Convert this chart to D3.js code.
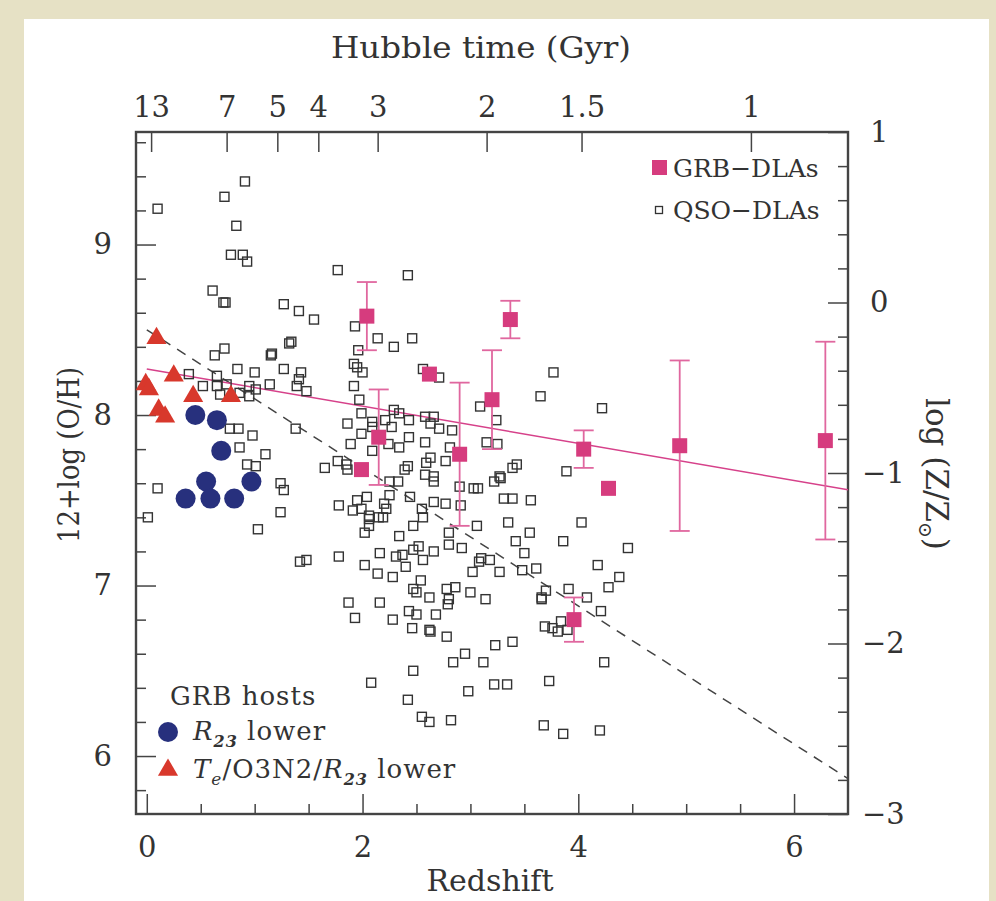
<!DOCTYPE html>
<html>
<head>
<meta charset="utf-8">
<script src="https://cdn.jsdelivr.net/npm/d3@7"></script>
<style>
  html, body { margin: 0; padding: 0; background: #e6e1c5; }
  svg { display: block; }
  text { font-family: "DejaVu Serif", serif; fill: #333; }
  .axis text { font-size: 29px; }
  .axis path { display: none; }
  .axis line { stroke: #444; stroke-width: 1.5px; }
</style>
</head>
<body>
<div id="chart"></div>
<script>
// QSO-DLAs: [redshift, 12+log(O/H)]
var qsoDla = [
  [0.10,9.21],[0.91,9.37],[0.72,9.28],[0.83,9.11],[0.78,8.94],[0.89,8.94],[0.93,8.90],[0.61,8.73],[0.71,8.66],[0.73,8.66],
  [1.77,8.85],[2.42,8.82],[1.27,8.65],[1.41,8.61],[1.55,8.56],[1.93,8.52],[2.14,8.45],[2.29,8.40],[2.46,8.45],[1.96,8.38],
  [0.72,8.39],[0.63,8.35],[1.32,8.42],[1.34,8.43],[1.15,8.35],[1.16,8.36],[0.39,8.24],[0.84,8.27],[1.00,8.25],[1.27,8.27],
  [1.43,8.25],[1.41,8.21],[1.39,8.17],[1.48,8.14],[1.14,8.18],[0.95,8.17],[0.95,8.11],[1.01,8.15],[0.65,8.23],[0.65,8.17],
  [0.74,8.18],[0.52,8.17],[0.68,8.12],[0.86,8.13],[1.92,8.30],[1.95,8.28],[2.00,8.25],[1.92,8.17],[1.97,8.09],[1.99,8.01],
  [2.56,8.27],[2.71,8.22],[3.09,8.05],[2.29,8.03],[2.34,8.01],[2.58,7.99],[2.66,7.99],[2.63,7.95],[2.71,7.92],[2.83,7.91],
  [2.43,7.97],[2.21,7.97],[2.09,7.96],[2.09,7.93],[2.27,7.93],[1.86,7.95],[0.77,7.92],[0.85,7.92],[1.38,7.92],[0.98,7.88],
  [1.99,7.89],[2.43,7.87],
  [0.86,7.81],[1.10,7.77],[0.93,7.71],[1.01,7.70],[0.10,7.57],[0.01,7.40],[1.24,7.60],[1.27,7.56],[1.24,7.43],[1.03,7.33],
  [1.42,7.14],[1.48,7.15],[1.78,7.17],[1.89,7.83],[1.65,7.69],[1.77,7.73],[1.85,7.71],[1.86,7.68],[2.24,7.83],[2.34,7.81],
  [2.58,7.84],[2.81,7.81],[2.59,7.72],[2.77,7.73],[2.39,7.68],[2.42,7.70],[2.58,7.65],[2.66,7.64],[2.25,7.61],[2.33,7.61],
  [2.66,7.61],[2.90,7.58],[3.03,7.57],[3.07,7.57],[1.95,7.50],[2.04,7.52],[1.78,7.47],[1.91,7.44],[1.99,7.45],[2.20,7.48],
  [2.22,7.45],[2.25,7.53],[2.06,7.41],[2.15,7.40],[2.06,7.39],[2.19,7.40],[2.06,7.35],[2.02,7.31],[2.44,7.52],[2.55,7.45],
  [2.56,7.40],[2.66,7.49],[2.77,7.48],[2.91,7.47],[2.47,7.35],[2.80,7.31],[3.06,7.35],[2.34,7.29],[2.80,7.24],[2.92,7.22],
  [2.47,7.21],[2.52,7.23],[2.66,7.20],[2.56,7.15],[2.16,7.19],[2.31,7.17],[2.37,7.18],[2.02,7.12],[2.14,7.07],[2.28,7.05],
  [2.40,7.11],[3.10,7.16],[3.08,7.14],[3.02,7.08],[2.54,7.03],[2.47,6.98],[2.50,6.96],[2.62,6.93],[2.78,6.98],[2.86,6.99],
  [3.00,6.96],[2.80,6.92],[2.79,6.89],[3.14,6.92],[1.87,6.90],[2.16,6.90],[1.93,6.81],[2.28,6.80],[2.43,6.85],[2.50,6.83],
  [2.68,6.83],[2.46,6.75],[2.62,6.74],[2.63,6.73],[2.78,6.70],[2.84,6.55],[2.95,6.60],[3.12,6.55],[2.47,6.50],[2.08,6.43],
  [2.98,6.38],[2.42,6.33],[2.55,6.23],[2.62,6.20],[2.82,6.21],
  [2.09,7.79],[2.63,7.75],[3.15,7.84],[3.25,7.83],
  [3.77,8.25],[3.65,8.11],[4.22,8.04],[3.24,7.97],[3.89,7.67],[3.43,7.71],[3.39,7.69],[3.27,7.64],[3.22,7.61],[3.28,7.63],
  [3.31,7.51],[3.39,7.51],[3.56,7.50],[3.35,7.37],[4.03,7.37],
  [3.55,7.31],[3.42,7.26],[3.86,7.26],[4.46,7.22],[3.50,7.19],[3.18,7.15],[3.27,7.08],[3.48,7.09],[3.61,7.10],[4.18,7.12],
  [4.38,7.05],[4.28,6.99],[3.70,6.97],[3.66,6.92],[3.66,6.93],[3.91,6.98],[4.08,6.93],[4.21,6.85],[3.69,6.76],[3.76,6.75],
  [3.81,6.73],[3.84,6.79],[3.90,6.74],[3.23,6.65],[3.39,6.67],[4.24,6.55],[3.22,6.42],[3.34,6.42],[3.73,6.44],[3.68,6.18],
  [3.86,6.13],[4.20,6.15]
];

// GRB-DLAs: redshift, metallicity, error (0 = no error bar)
var grbZ   = [2.04, 2.62, 2.15, 1.99, 2.90, 3.20, 3.37, 4.05, 4.28, 4.94, 6.29, 3.96];
var grbOH  = [8.58, 8.24, 7.87, 7.68, 7.77, 8.09, 8.56, 7.80, 7.57, 7.82, 7.85, 6.80];
var grbErr = [0.20, 0,    0.28, 0,    0.42, 0.29, 0.11, 0.11, 0,    0.50, 0.58, 0.13];

// GRB hosts
var r23Z  = [0.45, 0.65, 0.69, 0.55, 0.97, 0.36, 0.59, 0.81];
var r23OH = [8.00, 7.97, 7.79, 7.61, 7.61, 7.51, 7.51, 7.51];
var teZ   = [0.09, 0.25, -0.01, 0.02, 0.11, 0.17, 0.43, 0.78];
var teOH  = [8.45, 8.23, 8.18, 8.15, 8.03, 7.99, 8.11, 8.11];

// fits: [intercept, slope]
var grbFit = [8.27, -0.109];
var qsoFit = [8.50, -0.405];

// top axis: Hubble time labels and the redshift where they sit
var hubbleLabels = ['13', '7', '5', '4', '3', '2', '1.5', '1'];
var hubbleZ = [0.04, 0.74, 1.21, 1.59, 2.14, 3.15, 4.03, 5.60];

var solarOH = 8.66;

var W = 996, H = 901;
var margin = {left: 136, right: 148, top: 132, bottom: 87};
var width = W - margin.left - margin.right;
var height = H - margin.top - margin.bottom;

var x = d3.scaleLinear().domain([-0.1, 6.5]).range([0, width]);
var y = d3.scaleLinear().domain([5.66, 9.66]).range([height, 0]);
var yR = d3.scaleLinear().domain([5.66 - solarOH, 9.66 - solarOH]).range([height, 0]);

var svg = d3.select("#chart").append("svg").attr("width", W).attr("height", H);

svg.append("rect").attr("x", 24).attr("y", 19).attr("width", 965).attr("height", H - 19).attr("fill", "#fff");

var g = svg.append("g").attr("transform", "translate(" + margin.left + "," + margin.top + ")");

// axes
var big = 20, small = 10;
var xMinor = d3.range(0, 6.01, 0.5).filter(function (d) { return d % 2 !== 0; });
var yMinor = d3.range(5.8, 9.61, 0.2).filter(function (d) { return Math.abs(d - Math.round(d)) > 0.01; });
var rMinor = d3.range(-2.8, 0.81, 0.2).filter(function (d) { return Math.abs(d - Math.round(d)) > 0.01; });

g.append("g").attr("class", "axis").attr("transform", "translate(0," + height + ")")
  .call(d3.axisBottom(x).tickValues([0, 2, 4, 6]).tickSize(-big).tickPadding(22).tickFormat(d3.format("d")));
g.append("g").attr("class", "axis").attr("transform", "translate(0," + height + ")")
  .call(d3.axisBottom(x).tickValues(xMinor).tickSize(-small).tickFormat(""));

g.append("g").attr("class", "axis")
  .call(d3.axisTop(x).tickValues(hubbleZ).tickSize(-big).tickPadding(15)
    .tickFormat(function (d, i) { return hubbleLabels[i]; }));

g.append("g").attr("class", "axis")
  .call(d3.axisLeft(y).tickValues([6, 7, 8, 9]).tickSize(-big).tickPadding(24).tickFormat(d3.format("d")));
g.append("g").attr("class", "axis")
  .call(d3.axisLeft(y).tickValues(yMinor).tickSize(-small).tickFormat(""));

var rightAx = g.append("g").attr("class", "axis").attr("transform", "translate(" + width + ",0)")
  .call(d3.axisRight(yR).tickValues([-3, -2, -1, 0, 1]).tickSize(-big).tickPadding(16)
    .tickFormat(function (d) { return d < 0 ? "\u2212" + Math.abs(d) : d; }));
rightAx.selectAll("text").attr("x", function (d) { return d < 0 ? 14 : 22; });
g.append("g").attr("class", "axis").attr("transform", "translate(" + width + ",0)")
  .call(d3.axisRight(yR).tickValues(rMinor).tickSize(-small).tickFormat(""));

g.append("rect").attr("width", width).attr("height", height)
  .attr("fill", "none").attr("stroke", "#444").attr("stroke-width", 2.4);

// clip for lines
g.append("clipPath").attr("id", "clip").append("rect").attr("width", width).attr("height", height);

var line = d3.line().x(function (d) { return x(d); });

g.append("path")
  .attr("clip-path", "url(#clip)")
  .attr("d", line.y(function (d) { return y(qsoFit[0] + qsoFit[1] * d); })([0, 6.5]))
  .attr("fill", "none").attr("stroke", "#444").attr("stroke-width", 1.5).attr("stroke-dasharray", "10,8");

g.append("path")
  .attr("clip-path", "url(#clip)")
  .attr("d", line.y(function (d) { return y(grbFit[0] + grbFit[1] * d); })([0, 6.5]))
  .attr("fill", "none").attr("stroke", "#d6418a").attr("stroke-width", 1.5);

// QSO-DLAs
g.append("g").selectAll("rect").data(qsoDla).enter().append("rect")
  .attr("x", function (d) { return x(d[0]) - 4.5; })
  .attr("y", function (d) { return y(d[1]) - 4.5; })
  .attr("width", 9).attr("height", 9)
  .attr("fill", "none").attr("stroke", "#333").attr("stroke-width", 1.4);

// GRB hosts
g.append("g").selectAll("circle").data(r23Z).enter().append("circle")
  .attr("cx", function (d) { return x(d); })
  .attr("cy", function (d, i) { return y(r23OH[i]); })
  .attr("r", 10).attr("fill", "#27307d");

var tri = d3.symbol().type(d3.symbolTriangle).size(175);
g.append("g").selectAll("path").data(teZ).enter().append("path")
  .attr("d", tri)
  .attr("transform", function (d, i) { return "translate(" + x(d) + "," + y(teOH[i]) + ")"; })
  .attr("fill", "#d8382c");

// GRB-DLAs with error bars
var eb = g.append("g").attr("stroke", "#e0679f").attr("stroke-width", 1.8).attr("fill", "none");
grbZ.forEach(function (z, i) {
  if (!grbErr[i]) return;
  var cx = x(z), y0 = y(grbOH[i] - grbErr[i]), y1 = y(grbOH[i] + grbErr[i]);
  eb.append("line").attr("x1", cx).attr("x2", cx).attr("y1", y0).attr("y2", y1);
  eb.append("line").attr("x1", cx - 10).attr("x2", cx + 10).attr("y1", y0).attr("y2", y0);
  eb.append("line").attr("x1", cx - 10).attr("x2", cx + 10).attr("y1", y1).attr("y2", y1);
});
g.append("g").selectAll("rect").data(grbZ).enter().append("rect")
  .attr("x", function (d) { return x(d) - 7.5; })
  .attr("y", function (d, i) { return y(grbOH[i]) - 7.5; })
  .attr("width", 15).attr("height", 15).attr("fill", "#d63c7e");

// axis titles
svg.append("text").attr("x", 481).attr("y", 58).attr("text-anchor", "middle")
  .attr("textLength", 300).attr("lengthAdjust", "spacingAndGlyphs")
  .style("font-size", "30px").text("Hubble time (Gyr)");
svg.append("text").attr("x", 490).attr("y", 891).attr("text-anchor", "middle")
  .style("font-size", "30px").text("Redshift");
svg.append("text").attr("transform", "translate(79,455) rotate(-90)").attr("text-anchor", "middle")
  .attr("textLength", 176).attr("lengthAdjust", "spacingAndGlyphs")
  .style("font-size", "29px").text("12+log (O/H)");
var rt = svg.append("text").attr("transform", "translate(926,474) rotate(90)").attr("text-anchor", "middle")
  .style("font-size", "31px");
rt.append("tspan").text("log (Z/Z");
rt.append("tspan").attr("dy", 7).style("font-size", "19px").text("\u2299");
rt.append("tspan").attr("dy", -7).text(")");

// legend top-right
svg.append("rect").attr("x", 652).attr("y", 160).attr("width", 15).attr("height", 15).attr("fill", "#d63c7e");
svg.append("text").attr("x", 673).attr("y", 177).style("font-size", "25px").text("GRB\u2212DLAs");
svg.append("rect").attr("x", 655.5).attr("y", 206.5).attr("width", 7).attr("height", 7)
  .attr("fill", "none").attr("stroke", "#333").attr("stroke-width", 1.3);
svg.append("text").attr("x", 673).attr("y", 219).style("font-size", "25px").text("QSO\u2212DLAs");

// legend bottom-left
svg.append("text").attr("x", 170).attr("y", 705).style("font-size", "26px").style("letter-spacing", "1px").text("GRB hosts");
svg.append("circle").attr("cx", 168).attr("cy", 732).attr("r", 10).attr("fill", "#27307d");
var l1 = svg.append("text").attr("x", 193).attr("y", 740).style("font-size", "26px").style("letter-spacing", "1px");
l1.append("tspan").style("font-style", "italic").text("R");
l1.append("tspan").attr("dy", 7).style("font-style", "italic").style("font-weight", "bold").style("font-size", "16px").text("23");
l1.append("tspan").attr("dy", -7).text(" lower");
svg.append("path").attr("d", tri).attr("transform", "translate(168,770)").attr("fill", "#d8382c");
var l2 = svg.append("text").attr("x", 193).attr("y", 778).style("font-size", "26px").style("letter-spacing", "1px");
l2.append("tspan").style("font-style", "italic").text("T");
l2.append("tspan").attr("dy", 7).style("font-style", "italic").style("font-size", "17px").text("e");
l2.append("tspan").attr("dy", -7).text("/O3N2/");
l2.append("tspan").style("font-style", "italic").text("R");
l2.append("tspan").attr("dy", 7).style("font-style", "italic").style("font-weight", "bold").style("font-size", "16px").text("23");
l2.append("tspan").attr("dy", -7).text(" lower");
</script>
</body>
</html>
